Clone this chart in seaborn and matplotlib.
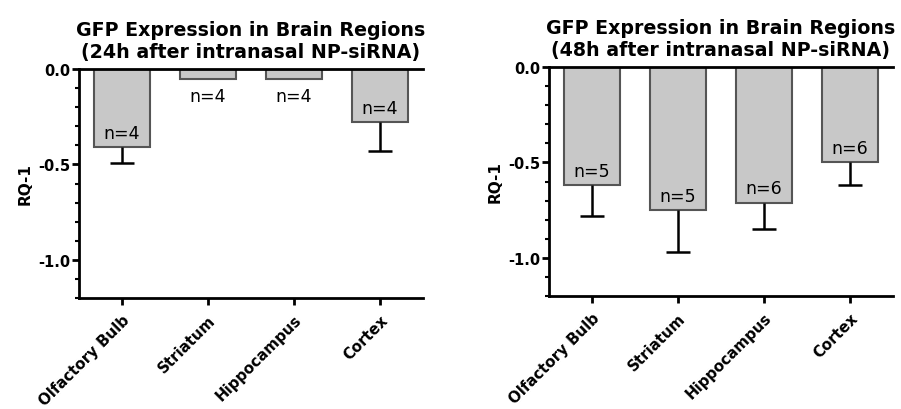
import pandas as pd
import matplotlib
matplotlib.use("Agg")
import matplotlib.pyplot as plt
import seaborn as sns
import numpy as np
from matplotlib.ticker import MultipleLocator

sns.set_style("ticks")
plt.rcParams['font.family'] = ['DejaVu Sans']
plt.rcParams['text.color'] = 'black'
plt.rcParams['axes.labelcolor'] = 'black'
plt.rcParams['xtick.color'] = 'black'
plt.rcParams['ytick.color'] = 'black'

regions = ["Olfactory Bulb", "Striatum", "Hippocampus", "Cortex"]

# 24h after intranasal NP-siRNA
rq_24h = [-0.41, -0.05, -0.05, -0.28]
err_24h = [0.08, np.nan, np.nan, 0.15]
n_24h = [4, 4, 4, 4]

# 48h after intranasal NP-siRNA
rq_48h = [-0.62, -0.75, -0.71, -0.50]
err_48h = [0.16, 0.22, 0.14, 0.12]
n_48h = [5, 5, 6, 6]

titles = ["GFP Expression in Brain Regions\n(24h after intranasal NP-siRNA)",
          "GFP Expression in Brain Regions\n(48h after intranasal NP-siRNA)"]

fig = plt.figure(figsize=(9.01, 4.10), dpi=100)
ax1 = fig.add_axes([0.0877, 0.2707, 0.3818, 0.5585])
ax2 = fig.add_axes([0.6093, 0.2756, 0.3818, 0.5585])


def draw_panel(ax, values, errs, ns, title):
    df = pd.DataFrame({"region": regions, "rq": values})
    sns.barplot(data=df, x="region", y="rq", ax=ax, color="#c8c8c8",
                edgecolor="#555555", linewidth=1.5, width=0.66,
                errorbar=None, saturation=1)
    xs = np.arange(len(regions))
    vals = np.array(values)
    lower = vals - np.array(errs)
    # downward-only error bars (stem + bottom cap)
    ok = ~np.isnan(lower)
    ax.vlines(xs[ok], lower[ok], vals[ok], color="black", lw=1.8, zorder=1)
    ax.hlines(lower[ok], xs[ok] - 0.145, xs[ok] + 0.145, color="black", lw=1.8, zorder=1)
    for x, v, n in zip(xs, vals, ns):
        if v < -0.2:
            ax.text(x, v + 0.075, f"n={n}", ha="center", va="center", fontsize=12.5)
        else:
            ax.text(x, v - 0.09, f"n={n}", ha="center", va="center", fontsize=12.5)

    ax.set_xlim(-0.5, 3.5)
    ax.set_ylim(-1.2, 0)
    ax.yaxis.set_minor_locator(MultipleLocator(0.1))
    ax.set_yticks([0.0, -0.5, -1.0])
    ax.set_yticklabels(["0.0", "-0.5", "-1.0"], fontweight="bold", fontsize=10.5)
    ax.set_xticks(xs)
    ax.set_xticklabels(regions, rotation=45, ha="right", rotation_mode="anchor",
                       fontweight="bold", fontsize=10.8)
    for lbl in ax.get_xticklabels():
        lbl.set_x(lbl.get_position()[0])
    ax.set_xlabel("")
    ax.set_ylabel("RQ-1", fontweight="bold", fontsize=11, labelpad=4)
    ax.set_title(title, fontweight="bold", fontsize=13.7, pad=9)

    for side in ["left", "top", "bottom"]:
        ax.spines[side].set_linewidth(2)
        ax.spines[side].set_color("black")
    ax.spines["right"].set_visible(False)
    ax.tick_params(axis="y", which="major", direction="out", length=5, width=2, pad=1)
    ax.tick_params(axis="x", which="major", direction="out", length=5, width=2, pad=5)
    ax.tick_params(axis="y", which="minor", direction="out", length=3, width=1.5)
    ax.tick_params(axis="x", which="minor", length=0)


draw_panel(ax1, rq_24h, err_24h, n_24h, titles[0])
draw_panel(ax2, rq_48h, err_48h, n_48h, titles[1])

fig.savefig("out.png", dpi=100)
